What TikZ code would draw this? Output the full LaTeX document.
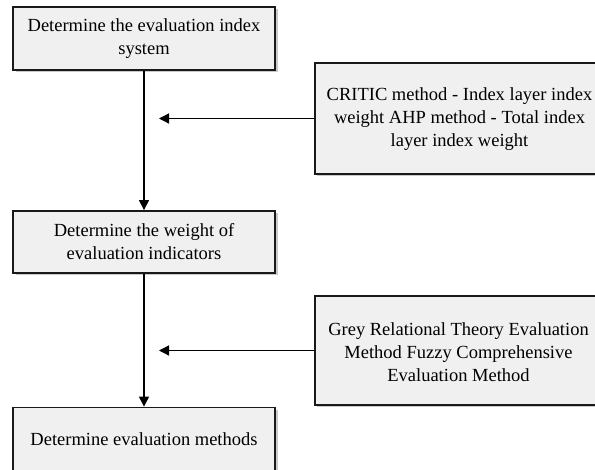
\documentclass[tikz,border=0pt]{standalone}
\usepackage{fontspec}
\setmainfont{Liberation Serif}
\usetikzlibrary{arrows.meta,shadows}
\begin{document}
\begin{tikzpicture}[x=1pt,y=1pt,
  txt/.style={font=\fontsize{18.5}{23}\selectfont,align=center,inner sep=0pt},
  box/.style={txt,draw=black!90,line width=1.8pt,fill=black!6,
    drop shadow={shadow xshift=2.5pt,shadow yshift=-2.5pt,opacity=0.35,fill=black!60}},
  lbox/.style={box,minimum width=262pt},
  rbox/.style={box,minimum width=290pt,minimum height=111pt},
  arr/.style={line width=1.3pt,-{Triangle[length=10pt,width=10pt]}}]
\useasboundingbox (0,0) rectangle (595,-470);
\fill[white] (0,0) rectangle (595,-470);
\node[lbox,minimum height=63pt] (a) at (144,-38.5) {Determine the evaluation index\\system};
\node[lbox,minimum height=62pt] (b) at (144,-242) {Determine the weight of\\evaluation indicators};
\node[lbox,minimum height=64pt] (c) at (144,-439.5) {Determine evaluation methods};
\node[rbox,anchor=west] (r1) at (314,-118.5) {};
\node[txt] (t1) at (459.5,-119.5) {CRITIC method - Index layer index\\weight AHP method - Total index\\layer index weight};
\node[rbox,anchor=west,minimum height=109pt] (r2) at (314,-350.5) {};
\node[txt] (t2) at (458.5,-352) {Grey Relational Theory Evaluation\\Method Fuzzy Comprehensive\\Evaluation Method};
\draw[arr] (a.south) -- (b.north);
\draw[arr] (b.south) -- (c.north);
\coordinate (h1) at (159,-118.5);
\coordinate (h2) at (159,-350.5);
\draw[arr] (r1.west) -- (h1);
\draw[arr] (r2.west) -- (h2);
\end{tikzpicture}
\end{document}
